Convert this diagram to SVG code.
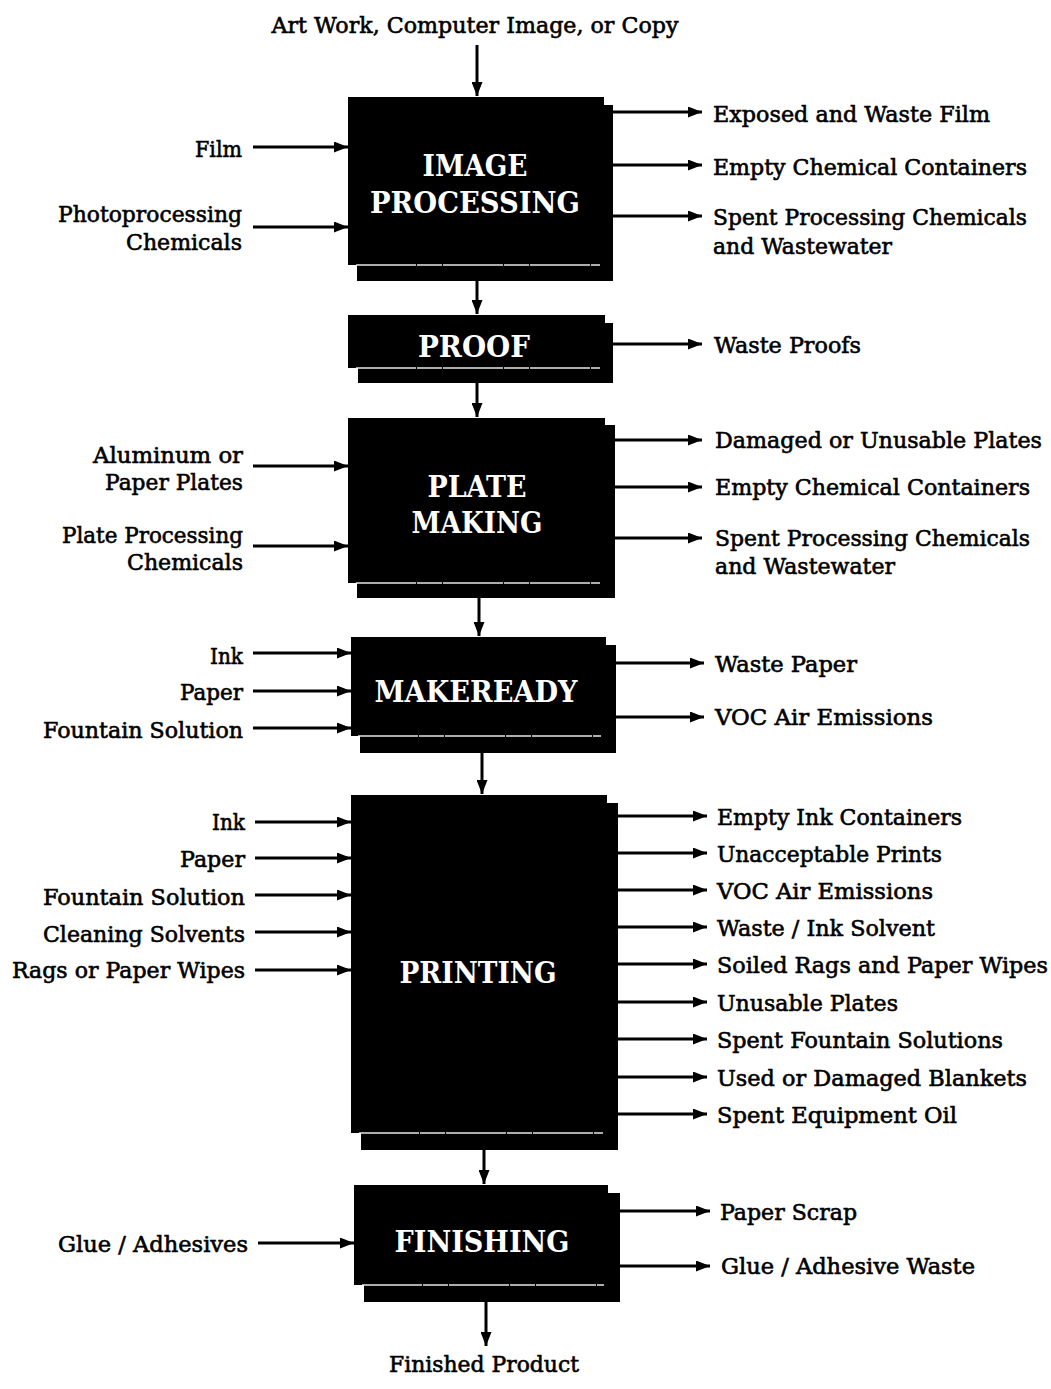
<svg xmlns="http://www.w3.org/2000/svg" width="1051" height="1389" viewBox="0 0 1051 1389">
  <style>
    .bg { fill: #ffffff; }
    .box { fill: #000000; }
    .gap { stroke: #ffffff; stroke-width: 1.3; stroke-dasharray: 60 1 25 1; fill: none; opacity: 0.9; }
    .title { font-family: "DejaVu Serif", "Liberation Serif", serif; font-weight: bold; font-size: 29px; fill: #ffffff; text-anchor: middle; }
    .lbl { font-family: "DejaVu Serif", "Liberation Serif", serif; font-size: 22px; fill: #000000; stroke: #000000; stroke-width: 0.6; }
    .r { text-anchor: end; }
    .c { text-anchor: middle; }
    .arr { stroke: #000000; stroke-width: 3; fill: none; marker-end: url(#head); }
  </style>
  <defs>
    <marker id="head" markerUnits="userSpaceOnUse" markerWidth="14" markerHeight="11" refX="14" refY="5.5" orient="auto">
      <path d="M0,0 L14,5.5 L0,11 Z" fill="#000000"/>
    </marker>
  </defs>

  <rect class="bg" x="0" y="0" width="1051" height="1389"/>

  <!-- connectors -->
  <g id="connectors">
    <!-- main flow -->
    <line class="arr" x1="477" y1="45" x2="477" y2="96"/>
    <line class="arr" x1="477" y1="281" x2="477" y2="314"/>
    <line class="arr" x1="477" y1="383" x2="477" y2="417"/>
    <line class="arr" x1="479" y1="598" x2="479" y2="636"/>
    <line class="arr" x1="482" y1="753" x2="482" y2="794"/>
    <line class="arr" x1="484" y1="1150" x2="484" y2="1184"/>
    <line class="arr" x1="486" y1="1302" x2="486" y2="1346"/>

    <!-- image processing -->
    <line class="arr" x1="253" y1="147" x2="348" y2="147"/>
    <line class="arr" x1="253" y1="227" x2="348" y2="227"/>
    <line class="arr" x1="613" y1="112" x2="702" y2="112"/>
    <line class="arr" x1="613" y1="165" x2="702" y2="165"/>
    <line class="arr" x1="613" y1="216" x2="702" y2="216"/>

    <!-- proof -->
    <line class="arr" x1="613" y1="344" x2="702" y2="344"/>

    <!-- plate making -->
    <line class="arr" x1="253" y1="466" x2="348" y2="466"/>
    <line class="arr" x1="253" y1="546" x2="348" y2="546"/>
    <line class="arr" x1="615" y1="440" x2="702" y2="440"/>
    <line class="arr" x1="615" y1="487" x2="702" y2="487"/>
    <line class="arr" x1="615" y1="538" x2="702" y2="538"/>

    <!-- makeready -->
    <line class="arr" x1="253" y1="653" x2="351" y2="653"/>
    <line class="arr" x1="253" y1="691" x2="351" y2="691"/>
    <line class="arr" x1="253" y1="728" x2="351" y2="728"/>
    <line class="arr" x1="616" y1="663" x2="704" y2="663"/>
    <line class="arr" x1="616" y1="717" x2="704" y2="717"/>

    <!-- printing -->
    <line class="arr" x1="255" y1="822" x2="351" y2="822"/>
    <line class="arr" x1="255" y1="858" x2="351" y2="858"/>
    <line class="arr" x1="255" y1="895" x2="351" y2="895"/>
    <line class="arr" x1="255" y1="932" x2="351" y2="932"/>
    <line class="arr" x1="255" y1="970" x2="351" y2="970"/>
    <line class="arr" x1="618" y1="816" x2="707" y2="816"/>
    <line class="arr" x1="618" y1="853" x2="707" y2="853"/>
    <line class="arr" x1="618" y1="890" x2="707" y2="890"/>
    <line class="arr" x1="618" y1="927" x2="707" y2="927"/>
    <line class="arr" x1="618" y1="964" x2="707" y2="964"/>
    <line class="arr" x1="618" y1="1002" x2="707" y2="1002"/>
    <line class="arr" x1="618" y1="1039" x2="707" y2="1039"/>
    <line class="arr" x1="618" y1="1077" x2="707" y2="1077"/>
    <line class="arr" x1="618" y1="1114" x2="707" y2="1114"/>

    <!-- finishing -->
    <line class="arr" x1="258" y1="1243" x2="354" y2="1243"/>
    <line class="arr" x1="620" y1="1211" x2="710" y2="1211"/>
    <line class="arr" x1="620" y1="1266" x2="710" y2="1266"/>
  </g>

  <!-- process boxes: offset back sheet, front sheet, white seam -->
  <g id="image-processing">
    <rect class="box" x="357" y="105" width="256" height="176"/>
    <rect class="box" x="348" y="97" width="256" height="168"/>
    <line class="gap" x1="356" y1="265" x2="600" y2="265"/>
    <text class="title" x="475" y="176" textLength="105" lengthAdjust="spacingAndGlyphs">IMAGE</text>
    <text class="title" x="475" y="213" textLength="210" lengthAdjust="spacingAndGlyphs">PROCESSING</text>
  </g>

  <g id="proof">
    <rect class="box" x="358" y="323" width="255" height="60"/>
    <rect class="box" x="348" y="315" width="257" height="53"/>
    <line class="gap" x1="356" y1="368" x2="600" y2="368"/>
    <text class="title" x="474" y="357" textLength="112" lengthAdjust="spacingAndGlyphs">PROOF</text>
  </g>

  <g id="plate-making">
    <rect class="box" x="357" y="425" width="258" height="173"/>
    <rect class="box" x="348" y="418" width="257" height="165"/>
    <line class="gap" x1="356" y1="583" x2="600" y2="583"/>
    <text class="title" x="477" y="497" textLength="99" lengthAdjust="spacingAndGlyphs">PLATE</text>
    <text class="title" x="477" y="533" textLength="131" lengthAdjust="spacingAndGlyphs">MAKING</text>
  </g>

  <g id="makeready">
    <rect class="box" x="360" y="645" width="256" height="108"/>
    <rect class="box" x="351" y="637" width="255" height="99"/>
    <line class="gap" x1="358" y1="736" x2="601" y2="736"/>
    <text class="title" x="476" y="702" textLength="203" lengthAdjust="spacingAndGlyphs">MAKEREADY</text>
  </g>

  <g id="printing">
    <rect class="box" x="361" y="803" width="257" height="347"/>
    <rect class="box" x="351" y="795" width="256" height="338"/>
    <line class="gap" x1="359" y1="1133" x2="603" y2="1133"/>
    <text class="title" x="478" y="983" textLength="157" lengthAdjust="spacingAndGlyphs">PRINTING</text>
  </g>

  <g id="finishing">
    <rect class="box" x="364" y="1193" width="256" height="109"/>
    <rect class="box" x="354" y="1185" width="254" height="100"/>
    <line class="gap" x1="362" y1="1285" x2="604" y2="1285"/>
    <text class="title" x="482" y="1252" textLength="175" lengthAdjust="spacingAndGlyphs">FINISHING</text>
  </g>

  <!-- start and end of the flow -->
  <g id="source">
    <text class="lbl c" x="475" y="33" textLength="407" lengthAdjust="spacingAndGlyphs">Art Work, Computer Image, or Copy</text>
  </g>
  <g id="product">
    <text class="lbl c" x="484" y="1372" textLength="190" lengthAdjust="spacingAndGlyphs">Finished Product</text>
  </g>

  <!-- inputs -->
  <g id="inputs">
    <text class="lbl r" x="242" y="157" textLength="47" lengthAdjust="spacingAndGlyphs">Film</text>
    <text class="lbl r" x="242" y="222" textLength="184" lengthAdjust="spacingAndGlyphs">Photoprocessing</text>
    <text class="lbl r" x="242" y="250" textLength="116" lengthAdjust="spacingAndGlyphs">Chemicals</text>

    <text class="lbl r" x="243" y="463" textLength="150" lengthAdjust="spacingAndGlyphs">Aluminum or</text>
    <text class="lbl r" x="243" y="490" textLength="138" lengthAdjust="spacingAndGlyphs">Paper Plates</text>
    <text class="lbl r" x="243" y="543" textLength="181" lengthAdjust="spacingAndGlyphs">Plate Processing</text>
    <text class="lbl r" x="243" y="570" textLength="116" lengthAdjust="spacingAndGlyphs">Chemicals</text>

    <text class="lbl r" x="243" y="664" textLength="33" lengthAdjust="spacingAndGlyphs">Ink</text>
    <text class="lbl r" x="243" y="700" textLength="63" lengthAdjust="spacingAndGlyphs">Paper</text>
    <text class="lbl r" x="243" y="738" textLength="200" lengthAdjust="spacingAndGlyphs">Fountain Solution</text>

    <text class="lbl r" x="245" y="830" textLength="33" lengthAdjust="spacingAndGlyphs">Ink</text>
    <text class="lbl r" x="245" y="867" textLength="65" lengthAdjust="spacingAndGlyphs">Paper</text>
    <text class="lbl r" x="245" y="905" textLength="202" lengthAdjust="spacingAndGlyphs">Fountain Solution</text>
    <text class="lbl r" x="245" y="942" textLength="202" lengthAdjust="spacingAndGlyphs">Cleaning Solvents</text>
    <text class="lbl r" x="245" y="978" textLength="233" lengthAdjust="spacingAndGlyphs">Rags or Paper Wipes</text>

    <text class="lbl r" x="248" y="1252" textLength="190" lengthAdjust="spacingAndGlyphs">Glue / Adhesives</text>
  </g>

  <!-- outputs -->
  <g id="outputs">
    <text class="lbl" x="713" y="122" textLength="277" lengthAdjust="spacingAndGlyphs">Exposed and Waste Film</text>
    <text class="lbl" x="713" y="175" textLength="314" lengthAdjust="spacingAndGlyphs">Empty Chemical Containers</text>
    <text class="lbl" x="713" y="225" textLength="314" lengthAdjust="spacingAndGlyphs">Spent Processing Chemicals</text>
    <text class="lbl" x="713" y="254" textLength="179" lengthAdjust="spacingAndGlyphs">and Wastewater</text>

    <text class="lbl" x="714" y="353" textLength="147" lengthAdjust="spacingAndGlyphs">Waste Proofs</text>

    <text class="lbl" x="715" y="448" textLength="327" lengthAdjust="spacingAndGlyphs">Damaged or Unusable Plates</text>
    <text class="lbl" x="715" y="495" textLength="315" lengthAdjust="spacingAndGlyphs">Empty Chemical Containers</text>
    <text class="lbl" x="715" y="546" textLength="315" lengthAdjust="spacingAndGlyphs">Spent Processing Chemicals</text>
    <text class="lbl" x="715" y="574" textLength="180" lengthAdjust="spacingAndGlyphs">and Wastewater</text>

    <text class="lbl" x="715" y="672" textLength="142" lengthAdjust="spacingAndGlyphs">Waste Paper</text>
    <text class="lbl" x="715" y="725" textLength="218" lengthAdjust="spacingAndGlyphs">VOC Air Emissions</text>

    <text class="lbl" x="717" y="825" textLength="245" lengthAdjust="spacingAndGlyphs">Empty Ink Containers</text>
    <text class="lbl" x="717" y="862" textLength="225" lengthAdjust="spacingAndGlyphs">Unacceptable Prints</text>
    <text class="lbl" x="717" y="899" textLength="216" lengthAdjust="spacingAndGlyphs">VOC Air Emissions</text>
    <text class="lbl" x="717" y="936" textLength="218" lengthAdjust="spacingAndGlyphs">Waste / Ink Solvent</text>
    <text class="lbl" x="717" y="973" textLength="331" lengthAdjust="spacingAndGlyphs">Soiled Rags and Paper Wipes</text>
    <text class="lbl" x="717" y="1011" textLength="181" lengthAdjust="spacingAndGlyphs">Unusable Plates</text>
    <text class="lbl" x="717" y="1048" textLength="286" lengthAdjust="spacingAndGlyphs">Spent Fountain Solutions</text>
    <text class="lbl" x="717" y="1086" textLength="310" lengthAdjust="spacingAndGlyphs">Used or Damaged Blankets</text>
    <text class="lbl" x="717" y="1123" textLength="240" lengthAdjust="spacingAndGlyphs">Spent Equipment Oil</text>

    <text class="lbl" x="720" y="1220" textLength="137" lengthAdjust="spacingAndGlyphs">Paper Scrap</text>
    <text class="lbl" x="721" y="1274" textLength="254" lengthAdjust="spacingAndGlyphs">Glue / Adhesive Waste</text>
  </g>
</svg>
